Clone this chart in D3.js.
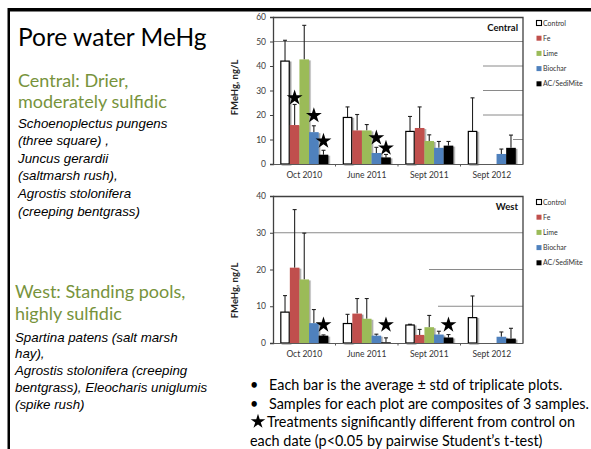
<!DOCTYPE html>
<html>
<head>
<meta charset="utf-8">
<style>
  body { margin: 0; background: #fff; }
  svg text { font-family: Lato, "Open Sans", sans-serif; }
</style>
</head>
<body>
<script src="https://cdn.jsdelivr.net/npm/d3@7"></script>
<script>
// ---- data ----
var categories = ["Oct 2010", "June 2011", "Sept 2011", "Sept 2012"];
var series = ["Control", "Fe", "Lime", "Biochar", "AC/SediMite"];
var seriesColors = ["#ffffff", "#c0504d", "#9bbb59", "#4f81bd", "#000000"];

// rows = series, columns = dates (null = no bar)
var centralMean = [
  [42.0, 19.0, 13.3, 13.3],
  [15.9, 13.7, 14.7, null],
  [42.7, 13.7, 9.4, null],
  [13.0, 4.5, 6.6, 4.1],
  [3.8, 2.7, 7.5, 6.6]
];
var centralStd = [
  [8.5, 4.3, 6.1, 13.7],
  [8.4, 6.5, 8.6, null],
  [13.9, 2.4, 2.5, null],
  [2.6, 2.3, 2.6, 2.0],
  [1.8, 1.2, 1.7, 5.2]
];
var centralStars = [
  ["Oct 2010", "Fe", 27.4],
  ["Oct 2010", "Biochar", 20.2],
  ["Oct 2010", "AC/SediMite", 9.8],
  ["June 2011", "Biochar", 11.1],
  ["June 2011", "AC/SediMite", 6.9]
];

var westMean = [
  [8.4, 5.3, 4.9, 6.9],
  [20.5, 8.0, 2.2, null],
  [17.3, 6.6, 4.3, null],
  [5.4, 2.0, 2.3, 1.7],
  [2.0, 0.2, 1.5, 1.2]
];
var westStd = [
  [4.5, 2.5, 0.2, 5.9],
  [15.8, 4.1, 1.5, null],
  [12.6, 5.5, 3.2, null],
  [3.7, 0.4, 0.9, 1.3],
  [0.2, 1.2, 0.8, 2.8]
];
var westStars = [
  ["Oct 2010", "AC/SediMite", 5.2],
  ["June 2011", "AC/SediMite", 5.2],
  ["Sept 2011", "AC/SediMite", 5.2]
];

var centralTicks = [0, 10, 20, 30, 40, 50, 60];
var westTicks = [0, 10, 20, 30, 40];

var W = 591, H = 449;
var svg = d3.select("body").append("svg")
    .attr("width", W)
    .attr("height", H);

// soft excel-like shadow under the bars
var defs = svg.append("defs");
defs.append("filter")
    .attr("id", "shadow")
    .attr("x", "-30%").attr("y", "-10%")
    .attr("width", "170%").attr("height", "130%")
  .append("feDropShadow")
    .attr("dx", 1.5).attr("dy", 1)
    .attr("stdDeviation", 0.7)
    .attr("flood-color", "#000")
    .attr("flood-opacity", 0.4);

// slide frame
svg.append("rect").attr("x", 8).attr("y", 8).attr("width", W - 8).attr("height", 3.5).attr("fill", "#000");
svg.append("rect").attr("x", 7.5).attr("y", 8).attr("width", 2.5).attr("height", H - 8).attr("fill", "#000");

// ---- left hand text ----
svg.append("text")
    .attr("x", 18).attr("y", 46)
    .attr("font-size", 24.5)
    .attr("fill", "#000")
    .text("Pore water MeHg");

function textBlock(x, lines, y0, step, size, color, italic) {
  svg.append("g").selectAll("text")
      .data(lines)
      .enter().append("text")
      .attr("x", x)
      .attr("y", function(d, i) { return y0 + i * step; })
      .attr("font-size", size)
      .attr("font-style", italic ? "italic" : "normal")
      .style("font-family", italic ? "'Liberation Sans', Arial, sans-serif" : null)
      .attr("fill", color)
      .text(function(d) { return d; });
}

var green = "#77933c";
textBlock(18, ["Central: Drier,", "moderately sulfidic"], 87, 21, 18, green, false);
textBlock(18, ["Schoenoplectus pungens", "(three square) ,", "Juncus gerardii",
               "(saltmarsh rush),", "Agrostis stolonifera", "(creeping bentgrass)"],
          127.5, 17.6, 13.3, "#000", true);
textBlock(15, ["West: Standing pools,", "highly sulfidic"], 298, 22, 18, green, false);
textBlock(15, ["Spartina patens (salt marsh", "hay),", "Agrostis stolonifera (creeping",
               "bentgrass), Eleocharis uniglumis", "(spike rush)"],
          341.5, 16.8, 13.3, "#000", true);

// ---- one bar panel ----
function drawPanel(p) {
  var g = svg.append("g")
      .attr("transform", "translate(" + p.left + "," + p.top + ")");

  var x0 = d3.scaleBand().domain(categories).range([0, p.width]);
  var x1 = d3.scaleBand().domain(series).range([0, x0.bandwidth()]).paddingOuter(0.75);
  var y = d3.scaleLinear().domain([0, d3.max(p.ticks)]).range([p.height, 0]);

  // gridlines (partly hidden on the original slide)
  g.append("g").selectAll("line")
      .data(p.grid)
      .enter().append("line")
      .attr("x1", function(d) { return d[1]; })
      .attr("x2", p.width)
      .attr("y1", function(d) { return y(d[0]); })
      .attr("y2", function(d) { return y(d[0]); })
      .attr("stroke", "#8a8a8a")
      .attr("stroke-width", 1);

  // plot area border, top and right
  g.append("path")
      .attr("d", "M0,0.5H" + p.width + "V" + p.height)
      .attr("fill", "none")
      .attr("stroke", "#404040")
      .attr("stroke-width", 1.3);

  var rows = [];
  series.forEach(function(s, i) {
    categories.forEach(function(c, j) {
      if (p.mean[i][j] != null)
        rows.push({s: s, c: c, i: i, v: p.mean[i][j], e: p.std[i][j]});
    });
  });

  // error bars (upper only), drawn first so bars sit on top
  var err = g.append("g").selectAll("g")
      .data(rows)
      .enter().append("g")
      .attr("stroke", "#222")
      .attr("stroke-width", 1.1);
  err.append("line")
      .attr("x1", function(d) { return x0(d.c) + x1(d.s) + x1.bandwidth() / 2; })
      .attr("x2", function(d) { return x0(d.c) + x1(d.s) + x1.bandwidth() / 2; })
      .attr("y1", function(d) { return y(d.v); })
      .attr("y2", function(d) { return y(d.v + d.e); });
  err.append("line")
      .attr("x1", function(d) { return x0(d.c) + x1(d.s) + x1.bandwidth() / 2 - 2; })
      .attr("x2", function(d) { return x0(d.c) + x1(d.s) + x1.bandwidth() / 2 + 2; })
      .attr("y1", function(d) { return y(d.v + d.e); })
      .attr("y2", function(d) { return y(d.v + d.e); });

  g.append("g").selectAll("rect")
      .data(rows)
      .enter().append("rect")
      .attr("x", function(d) { return x0(d.c) + x1(d.s) + (d.i == 0 ? 0.6 : 0); })
      .attr("width", function(d) { return x1.bandwidth() - (d.i == 0 ? 1.2 : 0); })
      .attr("y", function(d) { return y(d.v); })
      .attr("height", function(d) { return p.height - y(d.v); })
      .attr("fill", function(d) { return seriesColors[d.i]; })
      .attr("stroke", function(d) { return d.i == 0 ? "#000" : "none"; })
      .attr("stroke-width", 1.2)
      .attr("filter", "url(#shadow)");

  // significance stars
  g.append("g").selectAll("path")
      .data(p.stars)
      .enter().append("path")
      .attr("d", d3.symbol().type(d3.symbolStar).size(78))
      .attr("transform", function(d) {
        return "translate(" + (x0(d[0]) + x1(d[1]) + x1.bandwidth() / 2) + "," + (y(d[2]) + 1) + ")";
      })
      .attr("fill", "#000");

  // y axis
  var ya = g.append("g")
      .call(d3.axisLeft(y).tickValues(p.ticks).tickSize(3).tickPadding(4));
  ya.select(".domain").attr("stroke", "#404040").attr("stroke-width", 1.3);
  ya.selectAll(".tick line").attr("stroke", "#404040");
  ya.selectAll(".tick text").attr("font-size", 8.5).attr("fill", "#404040");

  // x axis
  var xa = g.append("g")
      .attr("transform", "translate(0," + p.height + ")")
      .call(d3.axisBottom(x0).tickSize(0).tickPadding(8));
  xa.select(".domain").attr("stroke", "#595959").attr("stroke-width", 1.2);
  xa.selectAll(".tick text").attr("font-size", 8.5).attr("fill", "#333");
  xa.append("g").selectAll("line")
      .data(categories.slice(1))
      .enter().append("line")
      .attr("x1", function(d) { return x0(d); })
      .attr("x2", function(d) { return x0(d); })
      .attr("y1", 0).attr("y2", 2.5)
      .attr("stroke", "#595959");

  // axis title
  g.append("text")
      .attr("transform", "translate(-35," + (p.height / 2 + p.labelShift) + ") rotate(-90)")
      .attr("text-anchor", "middle")
      .attr("font-size", 9.5)
      .attr("font-weight", "bold")
      .attr("fill", "#222")
      .text("FMeHg, ng/L");

  // panel name
  g.append("text")
      .attr("x", p.width - 5).attr("y", 14)
      .attr("text-anchor", "end")
      .attr("font-size", 9.5)
      .attr("font-weight", "bold")
      .attr("fill", "#111")
      .text(p.name);

  // legend
  var lg = svg.append("g")
      .attr("transform", "translate(" + (p.left + p.width + 13) + "," + (p.top + 6) + ")");
  var item = lg.selectAll("g")
      .data(series)
      .enter().append("g")
      .attr("transform", function(d, i) { return "translate(0," + i * 15.2 + ")"; });
  item.append("rect")
      .attr("x", 0.5).attr("y", -2.5)
      .attr("width", 5).attr("height", 5)
      .attr("fill", function(d, i) { return seriesColors[i]; })
      .attr("stroke", function(d, i) { return i == 0 ? "#000" : "none"; })
      .attr("stroke-width", 1.1);
  item.append("text")
      .attr("x", 7).attr("y", 2.5)
      .attr("font-size", 7)
      .attr("fill", "#333")
      .text(function(d) { return d; });
}

drawPanel({
  name: "Central", left: 273, top: 17, width: 250, height: 147,
  ticks: centralTicks, mean: centralMean, std: centralStd, stars: centralStars,
  grid: [[50, 0], [40, 210], [30, 210], [20, 210], [10, 240]],
  labelShift: -3
});

drawPanel({
  name: "West", left: 273, top: 196, width: 250, height: 147,
  ticks: westTicks, mean: westMean, std: westStd, stars: westStars,
  grid: [[30, 0], [20, 156], [10, 165]],
  labelShift: 21
});

// ---- notes under the charts ----
var notes = svg.append("g").attr("font-size", 14.4).attr("fill", "#000");
notes.append("text").attr("x", 250).attr("y", 390).text("•");
notes.append("text").attr("x", 269).attr("y", 390).text("Each bar is the average ± std of triplicate plots.");
notes.append("text").attr("x", 250).attr("y", 408.5).text("•");
notes.append("text").attr("x", 269).attr("y", 408.5).text("Samples for each plot are composites of 3 samples.");
notes.append("path")
    .attr("d", d3.symbol().type(d3.symbolStar).size(66))
    .attr("transform", "translate(258,421.5)")
    .attr("fill", "#000");
notes.append("text").attr("x", 267).attr("y", 427).text("Treatments significantly different from control on");
notes.append("text").attr("x", 250).attr("y", 445.5).text("each date (p<0.05 by pairwise Student\u2019s t-test)");
</script>
</body>
</html>
